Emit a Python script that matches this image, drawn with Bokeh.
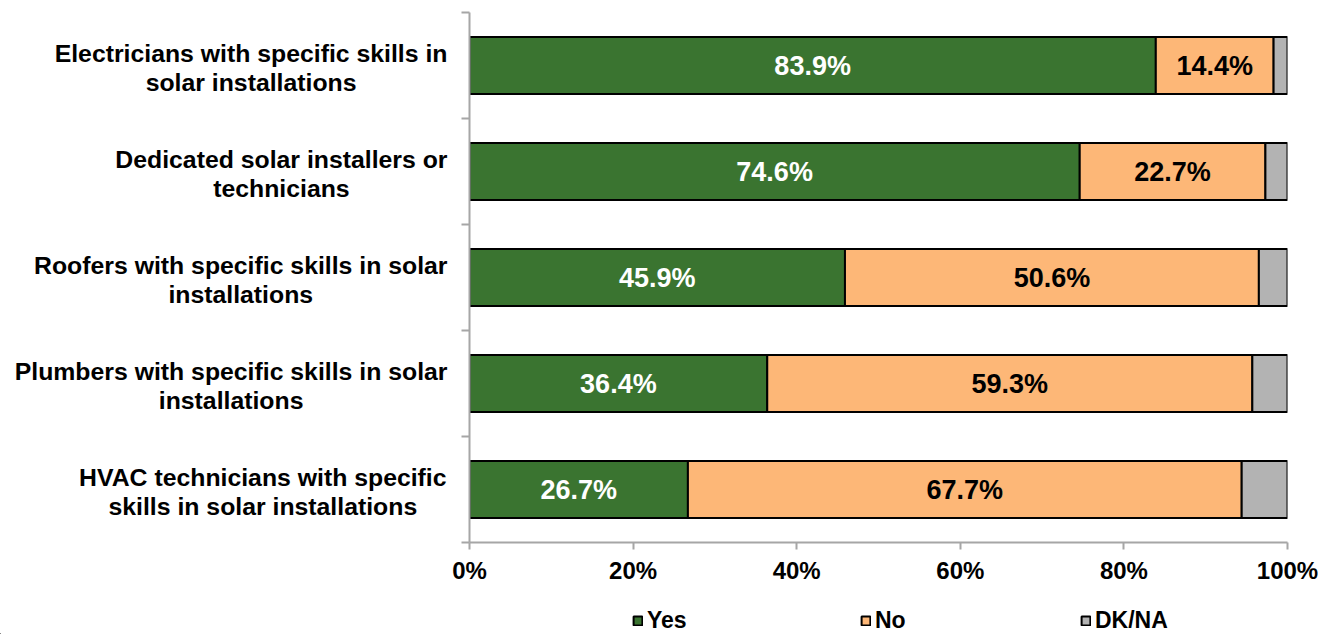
from bokeh.plotting import figure
from bokeh.models import (Range1d, FixedTicker, PrintfTickFormatter, Legend,
                          LegendItem, ColumnDataSource, CustomJSTickFormatter)
from bokeh.layouts import column, row
from bokeh.embed import file_html
from bokeh.resources import INLINE
from bokeh.core.properties import value

# ---------------- data ----------------
categories = [
    "Electricians with specific skills in\nsolar installations",
    "Dedicated solar installers or\ntechnicians",
    "Roofers with specific skills in solar\ninstallations",
    "Plumbers with specific skills in solar\ninstallations",
    "HVAC technicians with specific\nskills in solar installations",
]
yes = [83.9, 74.6, 45.9, 36.4, 26.7]
no = [14.4, 22.7, 50.6, 59.3, 67.7]
dkna = [1.7, 2.7, 3.5, 4.3, 5.6]
series_names = ["Yes", "No", "DK/NA"]
x_ticks = [0, 20, 40, 60, 80, 100]

# ---------------- style / layout ----------------
FONT = "Liberation Sans"
colors = ["#3a7430", "#fdb777", "#b3b3b3"]
axis_gray = "#a6a6a6"
TOTAL_W, TOTAL_H = 1318, 634
LABEL_W = 449            # width of the category label panel
BL, BR, BT, BB = 20, 31, 12, 50
CHART_W = TOTAL_W - LABEL_W
CHART_H = 592
LEG_H = TOTAL_H - CHART_H
FRAME_H = CHART_H - BT - BB

n = len(categories)
ypos = [n - 0.5 - i for i in range(n)]
px_per_unit = FRAME_H / n

src = ColumnDataSource(dict(y=ypos, Yes=yes, No=no, **{"DK/NA": dkna}))

# ---------------- main chart ----------------
p = figure(width=CHART_W, height=CHART_H, output_backend="svg", toolbar_location=None,
           x_range=Range1d(0, 100), y_range=Range1d(0, n),
           min_border_left=BL, min_border_right=BR, min_border_top=BT,
           min_border_bottom=BB)
p.outline_line_color = None
p.xgrid.visible = False
p.ygrid.visible = False
p.background_fill_color = "white"
p.border_fill_color = "white"

rs = p.hbar_stack(series_names, y="y", height=0.54, fill_color=colors,
                  line_color="black", line_width=2, source=src)

yes_mid = [v / 2 for v in yes]
no_mid = [a + b / 2 for a, b in zip(yes, no)]
p.text(x=yes_mid, y=ypos, text=[f"{v:.1f}%" for v in yes], text_align="center",
       text_baseline="middle", text_color="white", text_font=value(FONT),
       text_font_style="bold", text_font_size="27px")
p.text(x=no_mid, y=ypos, text=[f"{v:.1f}%" for v in no], text_align="center",
       text_baseline="middle", text_color="black", text_font=value(FONT),
       text_font_style="bold", text_font_size="27px")

xa = p.xaxis[0]
xa.ticker = FixedTicker(ticks=x_ticks)
xa.formatter = PrintfTickFormatter(format="%d%%")
xa.major_label_text_font = FONT
xa.major_label_text_font_style = "bold"
xa.major_label_text_font_size = "24px"
xa.major_label_text_color = "black"
xa.major_label_standoff = 7
xa.axis_line_color = axis_gray
xa.axis_line_width = 2
xa.major_tick_line_color = axis_gray
xa.major_tick_line_width = 2
xa.major_tick_out = 7
xa.major_tick_in = 0
xa.minor_tick_line_color = None

ya = p.yaxis[0]
ya.ticker = FixedTicker(ticks=list(range(n + 1)))
ya.formatter = CustomJSTickFormatter(code="return ''")
ya.major_label_standoff = 0
ya.axis_line_color = axis_gray
ya.axis_line_width = 2
ya.major_tick_line_color = axis_gray
ya.major_tick_line_width = 2
ya.major_tick_out = 8
ya.major_tick_in = 0
ya.minor_tick_line_color = None

# ---------------- category label panel (frames align with chart) ----------------
lab = figure(width=LABEL_W, height=CHART_H, output_backend="svg", toolbar_location=None,
             x_range=Range1d(0, LABEL_W), y_range=Range1d(0, n),
             x_axis_location=None, y_axis_location=None,
             min_border_left=0, min_border_right=0, min_border_top=BT,
             min_border_bottom=BB)
lab.outline_line_color = None
lab.xgrid.visible = False
lab.ygrid.visible = False
lab.background_fill_color = "white"
lab.border_fill_color = "white"

AW = {" ": 278, "A": 722, "C": 722, "D": 722, "E": 667, "H": 722, "K": 722,
      "N": 722, "P": 667, "R": 722, "V": 667, "Y": 667, "a": 556, "b": 611,
      "c": 556, "d": 611, "e": 556, "f": 333, "g": 611, "h": 611, "i": 278,
      "k": 556, "l": 278, "m": 889, "n": 611, "o": 611, "p": 611, "r": 389,
      "s": 556, "t": 333, "u": 611, "w": 778}
CAT_FS = 24.8
RIGHT_EDGE = LABEL_W - 2


def text_w(s, fs):
    return sum(AW.get(ch, 556) for ch in s) * fs / 1000.0


lx, ly, lt = [], [], []
for cat, yv in zip(categories, ypos):
    lines = cat.split("\n")
    maxw = max(text_w(s, CAT_FS) for s in lines)
    cx = RIGHT_EDGE - maxw / 2
    offs = [12.5, -17.0] if len(lines) == 2 else [0]
    for s, off in zip(lines, offs):
        lx.append(cx)
        ly.append(yv + off / px_per_unit)
        lt.append(s)
lab.text(x=lx, y=ly, text=lt, text_align="center", text_baseline="middle",
         text_font=value(FONT), text_font_style="bold",
         text_font_size=f"{CAT_FS}px", text_color="black")

# ---------------- legend panel ----------------
leg = figure(width=TOTAL_W, height=LEG_H, output_backend="svg", toolbar_location=None,
             x_range=Range1d(0, TOTAL_W), y_range=Range1d(0, LEG_H),
             x_axis_location=None, y_axis_location=None,
             min_border_left=0, min_border_right=0, min_border_top=0,
             min_border_bottom=0)
leg.outline_line_color = None
leg.xgrid.visible = False
leg.ygrid.visible = False
leg.background_fill_color = "white"
leg.border_fill_color = "white"

leg_x = [632, 860, 1080]
for name, c, lxp in zip(series_names, colors, leg_x):
    # off-screen proxy glyph carrying the series style for the legend swatch
    r = leg.hbar(y=[-1000], left=[-1000], right=[-999], height=1, fill_color=c,
                 line_color="black", line_width=2)
    lg = Legend(items=[LegendItem(label=name, renderers=[r])], location=(lxp, 0),
                orientation="horizontal", padding=0, margin=0, spacing=0,
                glyph_width=11, glyph_height=11, label_standoff=4,
                label_text_font=FONT, label_text_font_style="bold",
                label_text_font_size="23px", label_text_color="black",
                border_line_color=None, background_fill_alpha=0)
    leg.add_layout(lg)

layout = column(row(lab, p), leg)
open("out.html", "w").write(file_html(layout, INLINE))
